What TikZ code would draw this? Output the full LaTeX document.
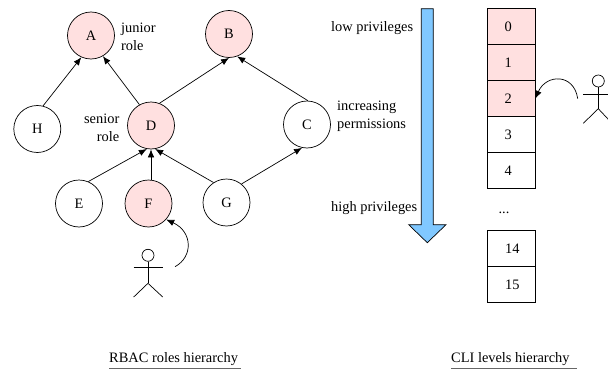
\documentclass[tikz,border=0pt]{standalone}
\usepackage{fontspec}
\setmainfont{Liberation Serif}
\usetikzlibrary{arrows.meta}
\definecolor{rolepink}{RGB}{255,224,224}
\definecolor{arrowblue}{RGB}{128,200,255}
\tikzset{
  x=1pt,y=-1pt,
  role/.style={circle,draw,line width=0.7pt,minimum size=47pt,inner sep=0pt,font=\fontsize{14.4}{14.4}\selectfont},
  held/.style={role,fill=rolepink},
  level/.style={draw,line width=0.8pt,minimum width=48pt,minimum height=36pt,inner sep=0pt,outer sep=0pt,font=\fontsize{14.4}{14.4}\selectfont},
  heldlevel/.style={level,fill=rolepink},
  lbl/.style={inner sep=0pt,font=\fontsize{14.4}{18}\selectfont},
  link/.style={-{Latex[length=8pt,width=6.5pt]},line width=0.7pt},
  stick/.style={line width=0.7pt},
}
\newcommand{\dg}[1]{\raisebox{-1pt}{\kern-6pt #1}}
\newcommand{\dgg}[1]{\raisebox{-1pt}{\kern2pt #1}}
\begin{document}
\begin{tikzpicture}
\useasboundingbox (0,0) rectangle (608,372);
\clip (0,0) rectangle (608,372);
\node[held] (A) at (91,35.5) {A};
\node[held] (B) at (229,34) {B};
\node[role] (H) at (37.3,129) {H};
\node[held] (D) at (151,125.5) {D};
\node[role] (C) at (307,124.5) {C};
\node[role] (E) at (79,203.5) {E};
\node[held] (F) at (148.5,203.5) {F};
\node[role] (G) at (226.5,202.5) {G};
\draw[link] (H.76) -- (A.-114);
\draw[link] (D.119) -- (A.-60);
\draw[link] (D.69) -- (B.-90);
\draw[link] (C.88) -- (B.-70);
\draw[link] (E.67) -- (D.-100);
\draw[link] (F.north -| D.south) -- (D.south);
\draw[link] (G.123) -- (D.-80);
\draw[link] (G.51) -- (C.-102);
\node[lbl,align=left,anchor=west] (jr) at (121,37) {junior\\role};
\node[lbl,align=right,anchor=east] (sr) at (119.5,128) {senior\\role};
\node[lbl,align=left,anchor=west] (ip) at (337,116) {increasing\\permissions};
% actor near F
\node[circle,draw,line width=0.7pt,minimum size=12pt,inner sep=0pt] (h1) at (148,255.3) {};
\coordinate (w1) at (148,283.3);
\draw[stick] (h1.south) -- (w1);
\draw[stick] (133.7,267.7) -- (162.7,267.7);
\draw[stick] (133.7,297) -- (w1) -- (162.7,297);
\coordinate (s1) at (175,266.7);
\draw[link] (s1) .. controls (193,257) and (193,232) .. (F.-42);
% privileges arrow
\draw[fill=arrowblue,line width=0.7pt] (421.3,8.7) -- (433.3,8.7) -- (433.3,224.7) -- (446,224.7) -- (427.3,242.7) -- (408.7,224.7) -- (421.3,224.7) -- cycle;
\node[lbl,anchor=west] (lp) at (331,28.5) {low privileges};
\node[lbl,anchor=west] (hp) at (331,208.5) {high privileges};
% levels
\node[heldlevel] (l0) at (511.3,26.7) {\dg{0}};
\node[heldlevel] (l1) at (511.3,62.7) {\dg{1}};
\node[heldlevel] (l2) at (511.3,98.7) {\dg{2}};
\node[level] (l3) at (511.3,134.7) {\dg{3}};
\node[level] (l4) at (511.3,170.7) {\dg{4}};
\node[lbl,anchor=base] (dots) at (504,213) {...};
\node[level] (l14) at (511.3,248.7) {\dgg{14}};
\node[level] (l15) at (511.3,284.7) {\dgg{15}};
% actor near levels
\node[circle,draw,line width=0.7pt,minimum size=12pt,inner sep=0pt] (h2) at (598.3,81) {};
\coordinate (w2) at (598.3,108.7);
\draw[stick] (h2.south) -- (w2);
\draw[stick] (583,94) -- (612,94);
\draw[stick] (583.3,123.3) -- (w2) -- (612,123.3);
\coordinate (s2) at (577.7,98.7);
\draw[link] (s2) .. controls (574,73) and (546,74) .. (l2.east);
% captions
\node[lbl,anchor=base west] (rb) at (109,362.5) {RBAC roles hierarchy};
\node[lbl,anchor=base west] (cl) at (451,362.5) {CLI levels hierarchy};
\draw[line width=1pt,black!60] (109,368.7) -- (241,368.7);
\draw[line width=1pt,black!60] (451,368.7) -- (577,368.7);
\end{tikzpicture}
\end{document}
